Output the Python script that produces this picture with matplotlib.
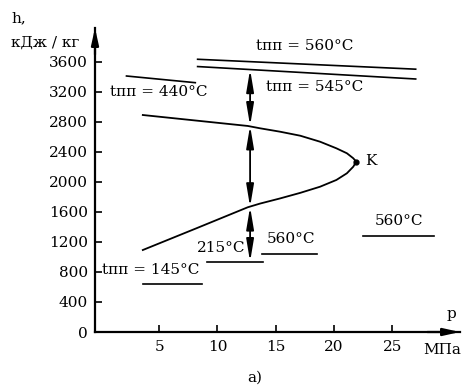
import matplotlib
matplotlib.use('Agg')
import matplotlib.pyplot as plt

plt.rcParams['font.family'] = ['DejaVu Serif']
plt.rcParams['font.size'] = 11

# saturation dome (p, MPa; h, kJ/kg)
dome_p = [3.6, 12.6, 13.65, 15.35, 17.1, 18.8, 20.2, 21.1, 21.65, 21.9,
          21.65, 21.1, 20.2, 18.8, 17.1, 15.35, 13.65, 12.6, 8.2, 3.6]
dome_h = [2893, 2747, 2716, 2671, 2617, 2537, 2449, 2383, 2316, 2271,
          2204, 2116, 2027, 1937, 1855, 1780, 1712, 1663, 1383, 1093]
crit_p, crit_h = 21.9, 2271

# superheat lines
line560_p = [8.3, 27.0]
line560_h = [3636, 3504]
line545_p = [8.3, 27.0]
line545_h = [3539, 3373]
line440_p = [2.2, 8.1]
line440_h = [3413, 3324]

# feedwater temperature lines
fw_lines = [([3.6, 8.7], [640, 640]),
            ([9.1, 13.9], [937, 937]),
            ([13.8, 18.5], [1040, 1040]),
            ([22.5, 28.6], [1280, 1280])]

# vertical process line
proc_p = 12.8
proc_h = [3500, 2750, 1668, 937]

xticks = [5, 10, 15, 20, 25]
yticks = [0, 400, 800, 1200, 1600, 2000, 2400, 2800, 3200, 3600]

W, H = 462, 389
fig = plt.figure(figsize=(W / 100, H / 100), dpi=100)
ax = fig.add_axes([95 / W, (H - 332) / H, (460 - 95) / W, (332 - 28) / H])
ax.set_xlim(-0.5, 30.8)
ax.set_ylim(0, 4053)

for s in ['top', 'right']:
    ax.spines[s].set_visible(False)
for s in ['left', 'bottom']:
    ax.spines[s].set_linewidth(1.6)

ax.set_xticks(xticks)
ax.set_yticks(yticks)
ax.tick_params(direction='in', length=5, width=1.2, labelsize=11)
ax.tick_params(axis='x', pad=6)
ax.tick_params(axis='y', pad=5)

# axis arrowheads
ax.annotate('', xy=(30.8, 0), xytext=(28, 0), annotation_clip=False,
            arrowprops=dict(arrowstyle='-|>,head_length=0.9,head_width=0.2',
                            color='k', lw=1.6, shrinkA=0, shrinkB=0))
ax.annotate('', xy=(-0.5, 4053), xytext=(-0.5, 3700), annotation_clip=False,
            arrowprops=dict(arrowstyle='-|>,head_length=0.9,head_width=0.2',
                            color='k', lw=1.6, shrinkA=0, shrinkB=0))

ax.plot(dome_p, dome_h, color='k', lw=1.3)
ax.plot(crit_p, crit_h, 'o', color='k', ms=3.5)

ax.plot(line560_p, line560_h, color='k', lw=1.2)
ax.plot(line545_p, line545_h, color='k', lw=1.2)
ax.plot(line440_p, line440_h, color='k', lw=1.2)
for lp, lh in fw_lines:
    ax.plot(lp, lh, color='k', lw=1.2)

for a, b in zip(proc_h[:-1], proc_h[1:]):
    ax.annotate('', xy=(proc_p, a), xytext=(proc_p, b),
                arrowprops=dict(arrowstyle='<|-|>,head_length=1.2,head_width=0.2',
                                color='k', lw=1.3, shrinkA=0, shrinkB=0))


def px(x, y):
    return x / W, 1 - y / H


def label(x, y, s, **kw):
    kw.setdefault('ha', 'center')
    kw.setdefault('va', 'center')
    fig.text(*px(x, y), s, **kw)


label(11, 18, 'h,', ha='left')
label(11, 43, 'кДж / кг', ha='left')
label(305, 46, 'tпп = 560°C')
label(315, 87, 'tпп = 545°C')
label(110, 92, 'tпп = 440°C', ha='left')
label(365, 161, 'K', ha='left')
label(221, 248, '215°C')
label(291, 239, '560°C')
label(399, 221, '560°C')
label(151, 270, 'tпп = 145°C')
label(451, 314, 'p')
label(423, 350, 'МПа', ha='left')
label(255, 378, 'a)')

fig.savefig('out.png', dpi=100)
